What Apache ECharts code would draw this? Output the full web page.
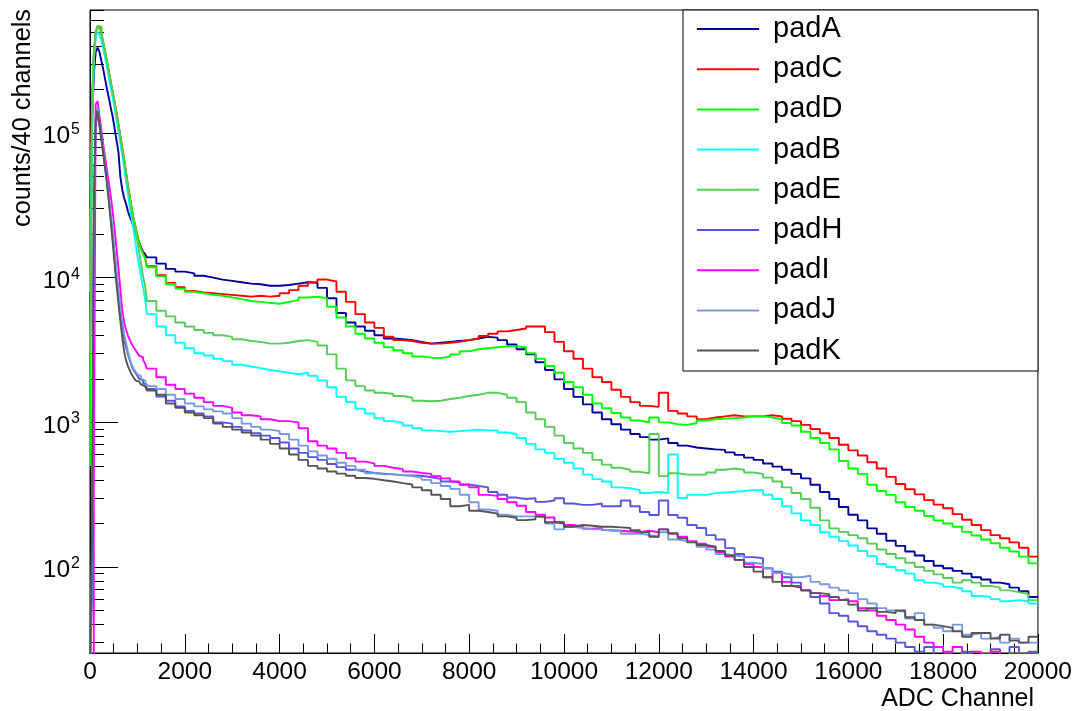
<!DOCTYPE html>
<html>
<head>
<meta charset="utf-8">
<script src="https://cdn.jsdelivr.net/npm/echarts@6/dist/echarts.min.js"></script>
<style>
html,body{margin:0;padding:0;background:#ffffff;}
#chart{width:1075px;height:711px;}
</style>
</head>
<body>
<div id="chart"></div>
<script>
// ---------------- binning (ADC channels) ----------------
const fineStep = 40;      // 40-channel bins up to fineEnd
const fineEnd = 1200;
const coarseStep = 200;   // wider bins afterwards
const xEnd = 20000;

// ---------------- axis ticks ----------------
const xTickInterval = 2000;
const yMin = 25.45;
const yMax = 708000;
const yMajorTicks = [100, 1000, 10000, 100000];
const yMinorTicks = [30,40,50,60,70,80,90,
  200,300,400,500,600,700,800,900,
  2000,3000,4000,5000,6000,7000,8000,9000,
  20000,30000,40000,50000,60000,70000,80000,90000,
  200000,300000,400000,500000,600000,700000];

// ---------------- series ----------------
const seriesNames = ['padA','padC','padD','padB','padE','padH','padI','padJ','padK'];
const seriesColors = ['#000099','#ff0000','#00ff00','#00ffff','#55cc55','#5555dd','#ff00ff','#7799dd','#555555'];

// counts per bin: 30 bins of 40 ch (0-1200), then 94 bins of 200 ch (1200-20000)
const padA = [
 5000,100000,251000,363000,389000,363000,316000,275000,234000,200000,
 174000,148000,129000,107000,89000,74000,50000,40700,35500,32400,
 28800,26300,24500,22400,20400,18600,17400,16200,15100,14600,
 13800,12500,11500,11000,10700,10300,10000,9700,9500,9300,
 9100,9000,8800,8800,8900,9100,9300,9200,8500,7200,
 5700,4900,4600,4300,4000,3800,3750,3700,3600,3500,
 3550,3600,3650,3700,3800,3900,3850,3700,3450,3200,
 2950,2600,2300,1980,1700,1500,1330,1170,1050,970,
 890,830,790,760,775,720,690,670,660,650,
 645,620,596,570,550,520,494,470,440,410,
 370,330,295,260,230,210,185,170,152,140,
 128,120,110,102,98,94,90,85,82,78,
 76,72,68,62
];
const padC = [
 30000,151000,355000,501000,537000,525000,479000,417000,363000,309000,
 263000,224000,191000,162000,138000,115000,95500,79400,66100,53700,
 43600,36300,30200,25700,22400,19500,17400,15800,14800,13800,
 12000,10400,9200,8600,8100,7900,7800,7700,7600,7500,
 7400,7500,7400,7500,7800,8200,8800,9300,9700,9400,
 8000,6800,5600,4900,4500,3900,3700,3650,3550,3500,
 3500,3550,3600,3700,3800,3950,4100,4250,4350,4450,
 4600,4600,4200,3600,3100,2750,2350,2050,1900,1680,
 1500,1380,1300,1280,1600,1200,1150,1100,1050,1080,
 1100,1120,1100,1100,1100,1120,1100,1060,1020,960,
 900,840,780,700,640,590,530,480,420,375,
 345,318,290,270,255,232,212,195,180,166,
 158,148,136,118
];
const padD = [
 500,120000,340000,500000,550000,540000,490000,425000,365000,310000,
 262000,222000,188000,160000,136000,113000,94000,78000,65000,53000,
 43000,36000,30000,25500,22200,19400,17300,15700,14600,13600,
 11800,10200,9000,8400,8000,7800,7600,7500,7300,7100,
 6900,6800,6700,6600,6800,7000,7300,7400,7200,6300,
 5300,4600,4100,3800,3550,3300,3150,3000,2850,2800,
 2780,2850,2950,3100,3200,3250,3300,3350,3350,3300,
 3000,2750,2450,2200,1900,1750,1550,1350,1250,1160,
 1080,1030,1000,1080,1000,970,960,990,1030,1050,
 1060,1070,1080,1100,1100,1080,1050,990,950,860,
 780,720,650,540,480,440,370,335,315,280,
 260,245,225,210,200,190,175,165,155,146,
 136,128,118,106
];
const padB = [
 8000,100000,316000,457000,501000,479000,437000,380000,331000,282000,
 240000,204000,174000,148000,123000,102000,85100,70800,57500,46800,
 38000,30900,25700,21400,17400,14100,12000,10000,8500,7200,
 5600,4600,4000,3550,3250,3000,2900,2750,2650,2500,
 2430,2370,2300,2250,2200,2150,2200,2100,1950,1750,
 1500,1380,1240,1150,1070,1020,990,950,910,880,
 870,860,870,880,890,880,880,850,830,780,
 710,650,615,560,525,480,435,405,390,355,
 350,340,325,330,325,600,300,315,315,324,
 327,331,335,340,340,316,295,263,235,210,
 195,174,162,151,141,129,119,105,100,95,
 90,81,78,76,73,71,68,63,62,60,
 58,59,58,56
];
const padE = [
 3000,141000,331000,490000,550000,525000,479000,417000,363000,309000,
 263000,224000,191000,162000,135000,112000,93300,75900,63100,52500,
 42700,34700,28800,24500,20900,17800,14800,12300,10200,8900,
 6900,5900,5400,4900,4600,4350,4150,4000,3900,3750,
 3650,3600,3500,3500,3550,3650,3700,3600,3400,2950,
 2350,1950,1780,1660,1600,1570,1520,1480,1410,1400,
 1410,1450,1480,1520,1550,1600,1600,1550,1480,1380,
 1170,1050,930,810,720,660,615,550,510,485,
 470,455,445,830,425,445,435,435,435,450,
 470,480,470,450,440,415,390,355,325,295,
 257,210,185,175,166,158,145,132,123,115,
 107,100,94,89,84,78,81,78,74,72,
 69,67,65,59
];
const padH = [
 20,60,20000,112000,138000,112000,89000,70800,56200,44700,
 33900,25700,19100,14100,10200,7600,5750,4570,3800,3310,
 2950,2690,2450,2290,2190,2090,2000,1950,1860,1820,
 1700,1510,1410,1290,1200,1150,1100,1000,980,930,
 880,840,810,780,725,660,615,575,550,515,
 490,470,457,447,442,437,432,430,427,417,
 407,390,385,372,363,355,330,316,302,295,
 299,282,288,299,275,269,269,275,263,263,
 288,263,240,229,288,229,219,195,186,166,
 155,135,123,117,115,98,93,85,78,69,
 62,56,48,46,42,39,36,34,32,30,
 28,26,28,24,25,23,26,23,25,27,
 24,28,25,26
];
const padI = [
 20,20,300,158000,166000,132000,105000,83200,67600,55000,
 44700,36300,28200,21400,15800,11700,8300,6000,4900,4370,
 3980,3720,3470,3310,3160,3020,2880,2820,2690,2570,
 2350,2050,1820,1700,1580,1480,1380,1300,1260,1170,
 1120,1100,1050,1020,1020,1000,910,740,690,660,
 615,565,535,520,500,485,475,457,447,440,
 425,410,390,370,355,315,310,295,280,265,
 240,230,220,205,195,190,184,186,180,178,
 176,174,178,174,182,170,162,151,145,138,
 126,118,112,105,100,85,91,79,74,69,
 66,63,59,60,58,52,50,46,43,40,
 37,33,30,28,26,28,25,26,24,26,
 23,25,24,25
];
const padJ = [
 20,100,25100,126000,151000,120000,95500,75900,60300,47900,
 36300,27500,20900,15500,11200,8300,6300,5000,4070,3550,
 3090,2750,2510,2340,2240,2140,2090,2000,1950,1910,
 1780,1700,1550,1450,1350,1290,1230,1190,1150,1070,
 980,930,890,870,830,760,690,630,590,560,
 525,500,470,445,437,437,430,425,415,400,
 380,363,347,316,280,250,245,230,224,224,
 224,219,200,182,190,186,182,182,178,178,
 170,170,166,162,174,155,151,148,138,132,
 123,120,118,107,105,98,91,89,85,87,
 79,76,72,69,66,60,56,52,50,49,
 44,48,40,38,36,40,34,35,32,33,
 30,32,30,30
];
const padK = [
 20,150,31600,126000,143000,115000,91200,72400,57500,44700,
 33100,24000,17400,12300,8900,6600,5000,3890,3090,2690,
 2450,2290,2140,2040,1950,1910,1860,1820,1780,1740,
 1660,1550,1350,1260,1170,1120,1070,980,930,890,
 850,810,760,710,660,600,550,500,480,457,
 442,427,412,407,398,390,380,372,355,339,
 316,295,263,269,245,240,234,224,219,211,
 214,224,204,200,190,195,193,190,190,188,
 186,180,174,162,182,171,158,148,142,138,
 129,120,112,100,93,85,79,74,72,69,
 66,65,62,59,55,50,52,49,48,50,
 45,43,40,39,38,36,33,35,35,32,
 34,31,30,33
];
const seriesValues = [padA, padC, padD, padB, padE, padH, padI, padJ, padK];

// ---------------- build ----------------
const FONT = '"Liberation Sans", Arial, Helvetica, sans-serif';
const binEdges = [];
for (let x = 0; x < fineEnd; x += fineStep) binEdges.push(x);
for (let x = fineEnd; x <= xEnd; x += coarseStep) binEdges.push(x);

function histData(vals) {
  const d = vals.map((v, i) => [binEdges[i], v]);
  d.push([binEdges[vals.length], vals[vals.length - 1]]);
  return d;
}

const series = seriesNames.map((name, k) => ({
  name: name,
  type: 'line',
  step: 'end',
  data: histData(seriesValues[k]),
  symbol: 'none',
  showSymbol: false,
  clip: true,
  xAxisIndex: 0,
  yAxisIndex: 0,
  lineStyle: { color: seriesColors[k], width: 1.9 },
  itemStyle: { color: seriesColors[k] },
  emphasis: { disabled: true },
  z: 2 + k * 0.01
}));

const chart = echarts.init(document.getElementById('chart'), null, { renderer: 'canvas' });
chart.setOption({
  animation: false,
  backgroundColor: '#ffffff',
  textStyle: { fontFamily: FONT, color: '#000' },
  grid: {
    left: 90, right: 37, top: 10, bottom: 58,
    show: true, borderColor: '#000', borderWidth: 1, backgroundColor: 'transparent',
    containLabel: false
  },
  legend: {
    orient: 'vertical',
    left: 696, top: 14,
    padding: 0,
    itemWidth: 62, itemHeight: 2, itemGap: 10.2,
    selectedMode: false,
    textStyle: { fontFamily: FONT, fontSize: 29, lineHeight: 30, color: '#000', padding: [0, 0, 0, 9] },
    data: seriesNames,
    z: 10
  },
  xAxis: {
    type: 'value',
    min: 0, max: xEnd, interval: xTickInterval,
    axisLine: { show: true, onZero: false, lineStyle: { color: '#000', width: 1 } },
    axisTick: { show: true, inside: true, length: 19, lineStyle: { color: '#000', width: 1 } },
    minorTick: { show: true, splitNumber: 4, length: 9.5, lineStyle: { color: '#000', width: 1 } },
    axisLabel: {
      fontFamily: FONT, fontSize: 24.5, color: '#000', margin: 7,
      showMinLabel: true, showMaxLabel: true, hideOverlap: false,
      formatter: function (v) { return String(v); }
    },
    splitLine: { show: false }
  },
  yAxis: [
    {
      type: 'log', logBase: 10, min: yMin, max: yMax, position: 'left',
      axisLine: { show: true, onZero: false, lineStyle: { color: '#000', width: 1 } },
      axisTick: { show: true, inside: true, length: 28, lineStyle: { color: '#000', width: 1 }, customValues: yMajorTicks },
      minorTick: { show: false },
      axisLabel: {
        customValues: yMajorTicks,
        margin: 10,
        hideOverlap: false,
        formatter: function (v) {
          return '{b|10}{e|' + Math.round(Math.log10(v)) + '}';
        },
        rich: {
          b: { fontFamily: FONT, fontSize: 24.5, lineHeight: 24, color: '#000', padding: [7, 0, 0, 0] },
          e: { fontFamily: FONT, fontSize: 16, lineHeight: 16, color: '#000', padding: [4, 0, 11, 1] }
        }
      },
      splitLine: { show: false }
    },
    {
      type: 'log', logBase: 10, min: yMin, max: yMax, position: 'left', offset: 0,
      axisLine: { show: false },
      axisTick: { show: true, inside: true, length: 14, lineStyle: { color: '#000', width: 1 }, customValues: yMinorTicks },
      axisLabel: { show: false },
      minorTick: { show: false },
      splitLine: { show: false }
    }
  ],
  graphic: [
    {
      type: 'rect', z: 5,
      shape: { x: 683, y: 10, width: 355, height: 361 },
      style: { fill: '#ffffff', stroke: '#000', lineWidth: 1 }
    },
    {
      type: 'text', z: 6,
      x: 1034, y: 699.5,
      style: { text: 'ADC Channel', font: '25px ' + FONT, fill: '#000', align: 'right', verticalAlign: 'middle' }
    },
    {
      type: 'text', z: 6,
      x: 23, y: 9, rotation: Math.PI / 2,
      style: { text: 'counts/40 channels', font: '25.3px ' + FONT, fill: '#000', align: 'right', verticalAlign: 'middle' }
    }
  ],
  series: series
});
</script>
</body>
</html>
